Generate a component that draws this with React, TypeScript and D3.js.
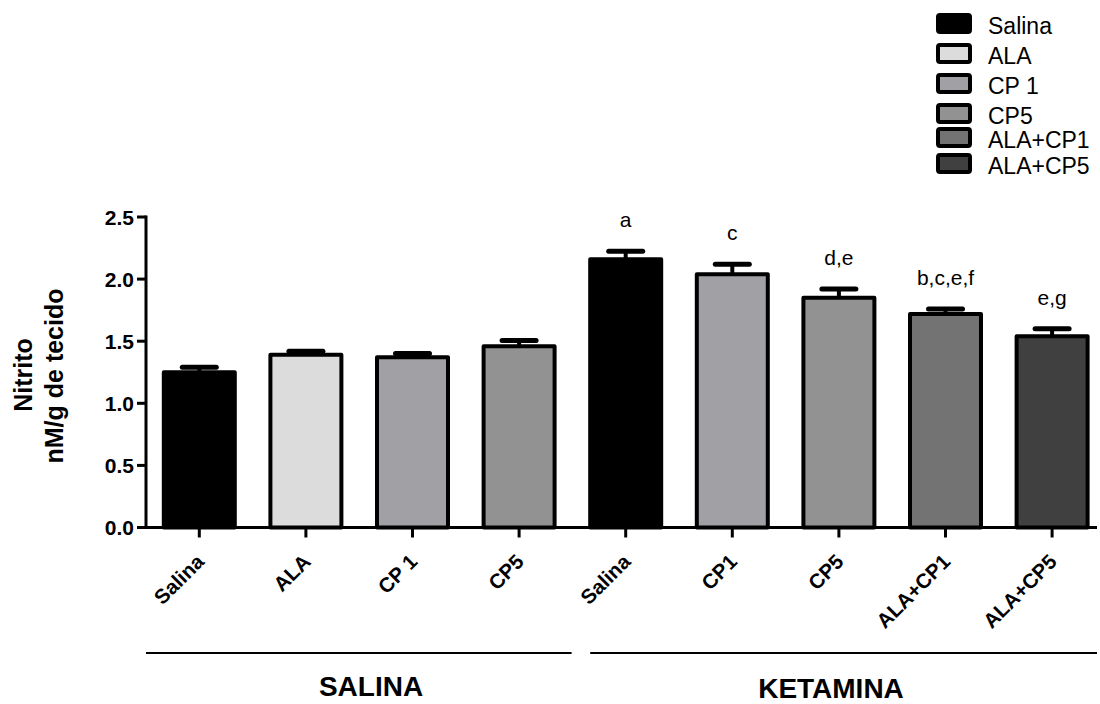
import React from "react";
import * as d3 from "d3";

const categories = ["Salina", "ALA", "CP 1", "CP5", "Salina", "CP1", "CP5", "ALA+CP1", "ALA+CP5"];
const means = [1.25, 1.39, 1.37, 1.46, 2.16, 2.04, 1.85, 1.72, 1.54];
const sems = [0.04, 0.03, 0.03, 0.045, 0.065, 0.08, 0.07, 0.04, 0.06];
const barFills = ["#000000", "#dcdcdc", "#a1a0a5", "#929292", "#000000", "#a1a0a5", "#929292", "#737373", "#404040"];
const annotations = ["", "", "", "", "a", "c", "d,e", "b,c,e,f", "e,g"];
const legendLabels = ["Salina", "ALA", "CP 1", "CP5", "ALA+CP1", "ALA+CP5"];
const legendFills = ["#000000", "#dcdcdc", "#a1a0a5", "#929292", "#737373", "#404040"];
const yTicks = [0, 0.5, 1.0, 1.5, 2.0, 2.5];
const groupNames = ["SALINA", "KETAMINA"];
const groupFirst = [0, 4];
const groupLast = [3, 8];

// layout
const W = 1100;
const H = 704;
const X0 = 146;
const STEP = 106.6;
const AXIS_END = 1097;
const legendRowY = [13, 43, 73, 103, 127, 153];
const FONT = "'Liberation Sans', Arial, Helvetica, sans-serif";

export default function App() {
  const x = d3
    .scaleBand<number>()
    .domain(d3.range(categories.length))
    .range([X0, X0 + STEP * categories.length])
    .paddingInner(0.334)
    .paddingOuter(0.167);
  const y = d3.scaleLinear().domain([0, 2.5]).range([527.5, 217]);
  const bw = x.bandwidth();
  const cx = (i: number) => (x(i) as number) + bw / 2;

  const groupLineStart = [X0, x(groupFirst[1]) as number];
  const groupLineEnd = [(x(groupLast[0]) as number) + bw + 17, AXIS_END];
  const groupTextX = [371, 831];
  const groupTextY = [696, 698];

  return (
    <svg
      width={W}
      height={H}
      style={{ position: "absolute", left: 0, top: 0, display: "block", background: "#fff" }}
      fontFamily={FONT}
    >
      {/* Legend */}
      {legendLabels.map((lab, i) => (
        <g key={"lg" + i}>
          <rect
            x={938}
            y={legendRowY[i] + 2}
            width={32}
            height={17}
            rx={2}
            fill={legendFills[i]}
            stroke="#000"
            strokeWidth={4}
          />
          <text x={988} y={legendRowY[i] + 20.5} fontSize={23} fill="#000">
            {lab}
          </text>
        </g>
      ))}

      {/* Error bars */}
      {means.map((m, i) => (
        <g key={"eb" + i}>
          <line x1={cx(i)} x2={cx(i)} y1={y(m)} y2={y(m + sems[i])} stroke="#000" strokeWidth={4} />
          <line
            x1={cx(i) - 17}
            x2={cx(i) + 17}
            y1={y(m + sems[i])}
            y2={y(m + sems[i])}
            stroke="#000"
            strokeWidth={5}
            strokeLinecap="round"
          />
        </g>
      ))}

      {/* Bars */}
      {means.map((m, i) => (
        <rect
          key={"b" + i}
          x={x(i) as number}
          y={y(m)}
          width={bw}
          height={y(0) - y(m)}
          fill={barFills[i]}
          stroke="#000"
          strokeWidth={4}
          strokeLinejoin="round"
        />
      ))}

      {/* Annotations */}
      {annotations.map((a, i) =>
        a ? (
          <text key={"an" + i} x={cx(i)} y={y(means[i] + sems[i]) - 24} fontSize={21} textAnchor="middle" fill="#000">
            {a}
          </text>
        ) : null
      )}

      {/* Y axis */}
      <line x1={X0} x2={X0} y1={y(2.5) - 1.5} y2={y(0) + 1.5} stroke="#000" strokeWidth={3} />
      {yTicks.map((t) => (
        <g key={"yt" + t}>
          <line x1={X0 - 9} x2={X0} y1={y(t)} y2={y(t)} stroke="#000" strokeWidth={3} />
          <text
            x={X0 - 12}
            y={y(t)}
            dy="0.36em"
            fontSize={21}
            fontWeight="bold"
            textAnchor="end"
            fill="#000"
          >
            {t.toFixed(1)}
          </text>
        </g>
      ))}

      {/* X axis */}
      <line x1={X0 - 1.5} x2={AXIS_END} y1={y(0)} y2={y(0)} stroke="#000" strokeWidth={3} />
      {categories.map((c, i) => (
        <g key={"xt" + i}>
          <line x1={cx(i)} x2={cx(i)} y1={y(0)} y2={y(0) + 10} stroke="#000" strokeWidth={3} />
          <text
            transform={`translate(${cx(i) + 6},${563}) rotate(-45)`}
            fontSize={20.5}
            fontWeight="bold"
            textAnchor="end"
            fill="#000"
          >
            {c}
          </text>
        </g>
      ))}

      {/* Y title */}
      <text transform="translate(32,375) rotate(-90)" fontSize={25} fontWeight="bold" textAnchor="middle" fill="#000">
        Nitrito
      </text>
      <text transform="translate(63,376) rotate(-90)" fontSize={25} fontWeight="bold" textAnchor="middle" fill="#000">
        nM/g de tecido
      </text>

      {/* Groups */}
      {groupNames.map((g, i) => (
        <g key={"g" + i}>
          <line x1={groupLineStart[i]} x2={groupLineEnd[i]} y1={653} y2={653} stroke="#000" strokeWidth={2} />
          <text x={groupTextX[i]} y={groupTextY[i]} fontSize={28} fontWeight="bold" textAnchor="middle" fill="#000">
            {g}
          </text>
        </g>
      ))}
    </svg>
  );
}
